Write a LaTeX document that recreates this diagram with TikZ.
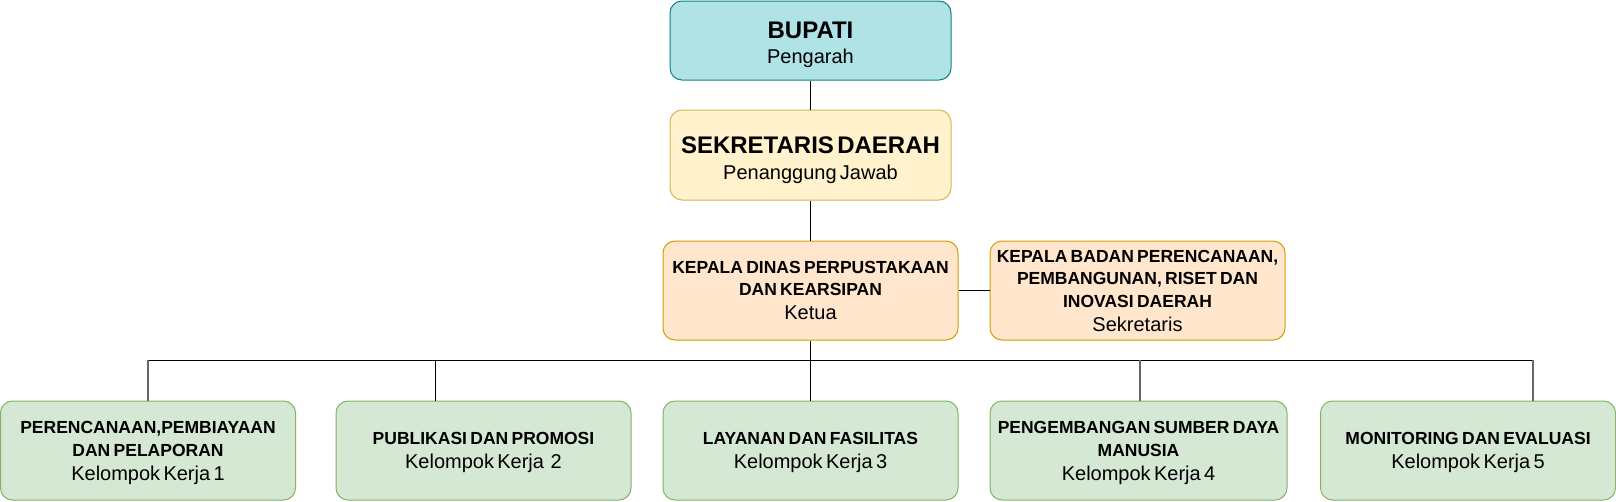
\documentclass[tikz,border=0pt]{standalone}
\usepackage{fontspec}
\setmainfont{Liberation Sans}
\definecolor{tealF}{HTML}{B0E3E6}
\definecolor{tealD}{HTML}{0E8088}
\definecolor{yelF}{HTML}{FFF2CC}
\definecolor{yelD}{HTML}{D6B656}
\definecolor{orF}{HTML}{FFE6CC}
\definecolor{orD}{HTML}{D79B00}
\definecolor{grF}{HTML}{D5E8D4}
\definecolor{grD}{HTML}{82B366}
\definecolor{lnG}{HTML}{666666}
\newcommand\bigHd[1]{{\fontsize{24}{26}\selectfont\bfseries #1\par}}
\newcommand\bigSb[1]{{\fontsize{20}{25.5}\selectfont #1\par}}
\newcommand\smHd[1]{{\fontsize{17.5}{22.5}\selectfont\bfseries #1\par}}
\newcommand\smSb[1]{{\fontsize{20}{24}\selectfont #1\par}}
\newcommand\lift[1]{\rule{0pt}{#1}}
\tikzset{
  orgbox/.style={draw, line width=1pt, rounded corners=12pt, inner sep=0pt,
    align=center, text=black},
  wbox/.style={orgbox, minimum width=295pt, minimum height=99pt, text width=293pt},
  topbox/.style={orgbox, minimum width=281pt, text width=279pt},
  conn/.style={draw=black, line width=1pt},
  connG/.style={draw=lnG, line width=1.2pt}
}
\begin{document}
\begin{tikzpicture}[x=1pt,y=-1pt]
\useasboundingbox (0,0) rectangle (1616,501);
% top level
\node[topbox, minimum height=79pt, fill=tealF, draw=tealD] (bupati) at (810.5,40.5)
  {\bigHd{\lift{25pt}BUPATI}\bigSb{Pengarah}};
\node[topbox, minimum height=90pt, fill=yelF, draw=yelD] (sekda) at (810.5,155)
  {\bigHd{\lift{27pt}SEKRETARIS DAERAH}\bigSb{Penanggung Jawab}};
\node[wbox, fill=orF, draw=orD] (ketua) at (810.5,290.5)
  {\smHd{KEPALA DINAS PERPUSTAKAAN\\DAN KEARSIPAN}\smSb{Ketua}};
\node[wbox, fill=orF, draw=orD] (sekr) at (1137.5,290.5)
  {\smHd{KEPALA BADAN PERENCANAAN,\\PEMBANGUNAN, RISET DAN\\INOVASI DAERAH}\smSb{Sekretaris}};
% working groups
\node[wbox, fill=grF, draw=grD] (k1) at (148,450.5)
  {\smHd{\lift{17pt}PERENCANAAN,PEMBIAYAAN\\DAN PELAPORAN}\smSb{Kelompok Kerja 1}};
\node[wbox, fill=grF, draw=grD] (k2) at (483.5,450.5)
  {\smHd{\lift{17pt}PUBLIKASI DAN PROMOSI}\smSb{Kelompok Kerja\ \ 2}};
\node[wbox, fill=grF, draw=grD] (k3) at (810.5,450.5)
  {\smHd{\lift{17pt}LAYANAN DAN FASILITAS}\smSb{Kelompok Kerja 3}};
\node[wbox, minimum width=297pt, fill=grF, draw=grD] (k4) at (1138.5,450.5)
  {\smHd{\lift{17pt}PENGEMBANGAN SUMBER DAYA\\MANUSIA}\smSb{Kelompok Kerja 4}};
\node[wbox, fill=grF, draw=grD] (k5) at (1468,450.5)
  {\smHd{\lift{17pt}MONITORING DAN EVALUASI}\smSb{Kelompok Kerja 5}};
% junctions on the bus
\coordinate (j1) at (148,360);
\coordinate (j2) at (435,360);
\coordinate (j4) at (1140,360);
\coordinate (j5) at (1533,360);
% connectors
\draw[conn] (bupati) -- (sekda);
\draw[conn] (sekda) -- (ketua);
\draw[conn] (ketua.east) -- (sekr.west);
\draw[conn] (ketua) -- (k3);
\draw[conn] (j1) -- (j5);
\draw[connG] (j1) -- (j1 |- k1.north);
\draw[conn] (j2) -- (j2 |- k2.north);
\draw[connG] (j4) -- (j4 |- k4.north);
\draw[connG] (j5) -- (j5 |- k5.north);
\end{tikzpicture}
\end{document}
